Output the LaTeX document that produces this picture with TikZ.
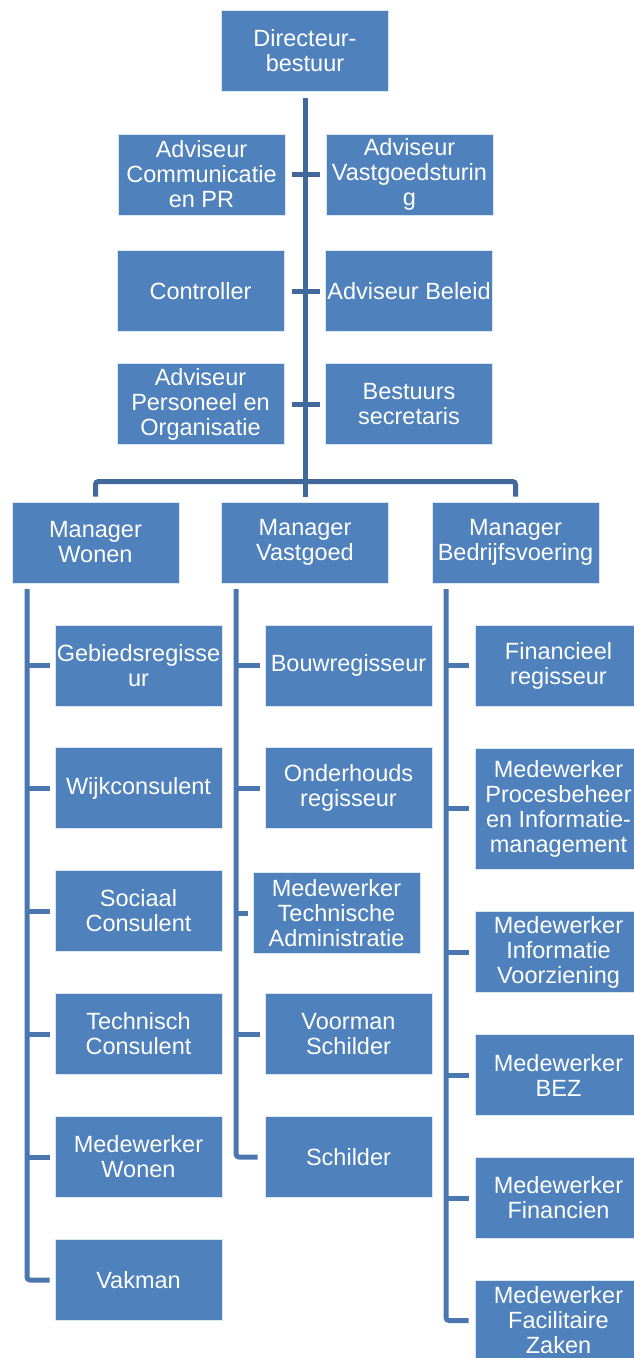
\documentclass[tikz,border=0pt]{standalone}
\usepackage{fontspec}
\setmainfont{Liberation Sans}
\usetikzlibrary{positioning,calc}
\definecolor{Box}{HTML}{4F81BD}
\definecolor{BoxEdge}{HTML}{DCE6F2}
\definecolor{LineTop}{HTML}{41699B}
\definecolor{LineSub}{HTML}{4A77AF}

\tikzset{
	unit/.style={
		draw=BoxEdge,
		line width=0.8pt,
		fill=Box,
		text=white,
		minimum width=167pt,
		minimum height=81pt,
		inner sep=1pt,
		align=center,
		font=\fontsize{23.5}{25}\selectfont
	},
	topline/.style={draw=LineTop, line width=5pt},
	subline/.style={draw=LineSub, line width=5pt}
}

\begin{document}
\begin{tikzpicture}[x=1pt,y=-1pt]
			
			\clip (0,0) rectangle (634,1358);
			
			% ---------------------------------------------------------
			% DIRECTIE EN STAF
			% ---------------------------------------------------------
			
			\node[unit] (dir) at (305,51) {Directeur-\\bestuur};
			
			\node[unit] (advcom) at (201.5,174.5) {Adviseur\\Communicatie\\en PR};
			\node[unit] (advvast) at (409.5,174.5) {Adviseur\\Vastgoedsturin\\g};
			
			\node[unit] (contr) at (200.5,291) {Controller};
			\node[unit] (advbel) at (409,291) {Adviseur Beleid};
			
			\node[unit] (advpo) at (200.5,404) {Adviseur\\Personeel en\\Organisatie};
			\node[unit] (bestsec) at (409,404) {Bestuurs\\secretaris};
			
			% ---------------------------------------------------------
			% MANAGERS
			% ---------------------------------------------------------
			
			\node[unit] (mwonen) at (95.5,542.5) {Manager\\Wonen};
			\node[unit] (mvast) at (305,542.5) {Manager\\Vastgoed};
			\node[unit] (mbedrijf) at (515.5,542.5) {Manager\\Bedrijfsvoering};
			
			% ---------------------------------------------------------
			% WONEN
			% ---------------------------------------------------------
			
			\node[unit] (gebied) at (138.5,665.5) {Gebiedsregisse\\ur};
			\node[unit] (wijk) at (138.5,788) {Wijkconsulent};
			\node[unit] (sociaal) at (138.5,911) {Sociaal\\Consulent};
			\node[unit] (techcons) at (138.5,1034) {Technisch\\Consulent};
			\node[unit] (mwwonen) at (138.5,1157) {Medewerker\\Wonen};
			\node[unit] (vakman) at (138.5,1280) {Vakman};
			
			% ---------------------------------------------------------
			% VASTGOED
			% ---------------------------------------------------------
			
			\node[unit] (bouw) at (348.5,665.5) {Bouwregisseur};
			\node[unit] (onderhoud) at (348.5,788) {Onderhouds\\regisseur};
			\node[unit] (mta) at (336.5,913) {Medewerker\\Technische\\Administratie};
			\node[unit] (voorman) at (348.5,1034) {Voorman\\Schilder};
			\node[unit] (schilder) at (348.5,1157) {Schilder};
			
			% ---------------------------------------------------------
			% BEDRIJFSVOERING
			% ---------------------------------------------------------
			
			\node[unit] (finreg) at (558.5,665.5) {Financieel\\regisseur};
			\node[unit, minimum height=121pt] (procbeh) at (558.5,808.5) {Medewerker\\Procesbeheer\\en Informatie-\\management};
			\node[unit] (infovz) at (558.5,952) {Medewerker\\Informatie\\Voorziening};
			\node[unit] (bez) at (558.5,1075) {Medewerker\\BEZ};
			\node[unit] (fin) at (558.5,1198) {Medewerker\\Financien};
			\node[unit] (facil) at (558.5,1320.5) {Medewerker\\Facilitaire\\Zaken};
			
			% ---------------------------------------------------------
			% LINES
			% ---------------------------------------------------------
			
			\coordinate (bar) at (305,481.5);
			
			\draw[topline] ([yshift=-6pt]dir.south) -- (bar);
			
			\draw[topline, shorten <=7pt, shorten >=6pt] (advcom.east) -- (advvast.west);
			\draw[topline, shorten <=8pt, shorten >=5pt] (contr.east) -- (advbel.west);
			\draw[topline, shorten <=8pt, shorten >=5pt] (advpo.east) -- (bestsec.west);
			
			\draw[topline, rounded corners=3pt]
			([yshift=5pt]mwonen.north) |- (bar) -| ([yshift=5pt]mbedrijf.north);
			\draw[topline] (bar) -- ([yshift=5pt]mvast.north);
			
			\coordinate (wtop) at (27,589);
			\coordinate (vtop) at (236,589);
			\coordinate (btop) at (446,589);
			
			\draw[subline, rounded corners=3pt] (wtop) |- ([xshift=-5pt]vakman.west);
			\foreach \n in {gebied,wijk,sociaal,techcons,mwwonen}
			\draw[subline] (wtop |- \n.west) -- ([xshift=-5pt]\n.west);
			
			\draw[subline, rounded corners=3pt] (vtop) |- ([xshift=-7pt]schilder.west);
			\foreach \n in {bouw,onderhoud,mta,voorman}
			\draw[subline] (vtop |- \n.west) -- ([xshift=-5pt]\n.west);
			
			\draw[subline, rounded corners=3pt] (btop) |- ([xshift=-6pt]facil.west);
			\foreach \n in {finreg,procbeh,infovz,bez,fin}
			\draw[subline] (btop |- \n.west) -- ([xshift=-6pt]\n.west);
			
		\end{tikzpicture}
\end{document}
